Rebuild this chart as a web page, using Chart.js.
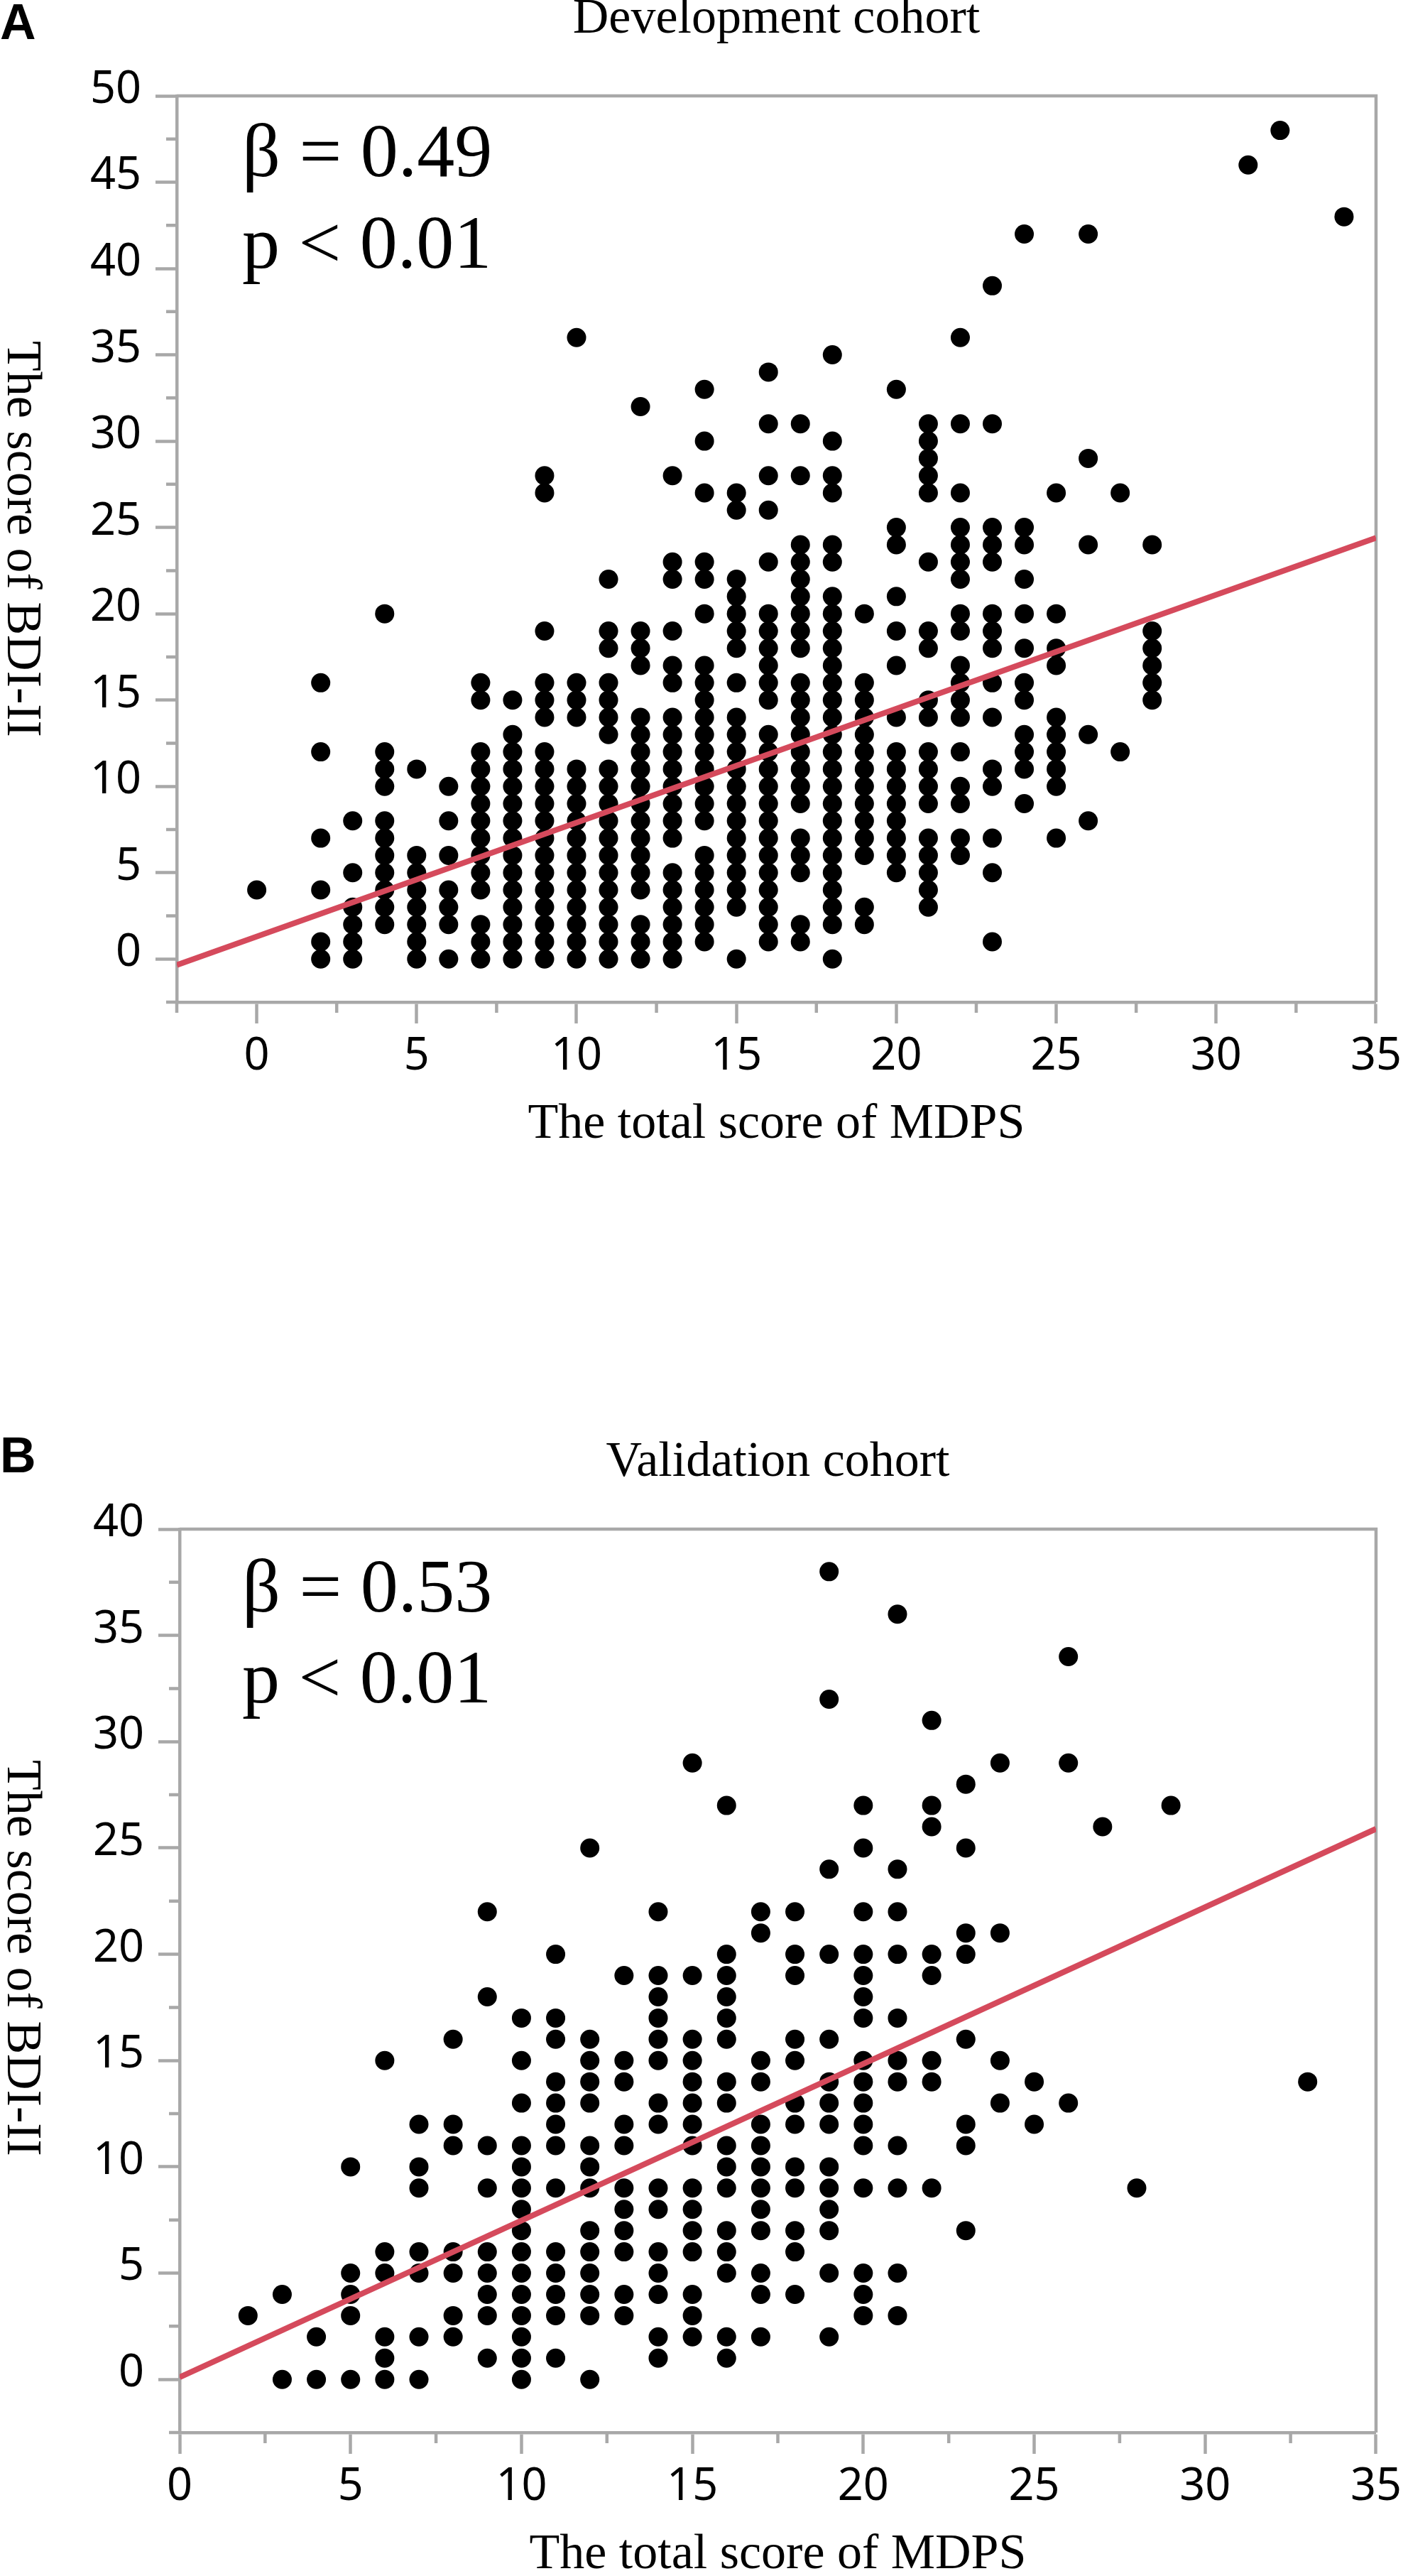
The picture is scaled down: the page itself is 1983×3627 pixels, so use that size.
<!DOCTYPE html>
<html>
<head>
<meta charset="utf-8">
<title>MDPS vs BDI-II</title>
<script src="https://cdn.jsdelivr.net/npm/chart.js@4.4.1/dist/chart.umd.min.js"></script>
<style>
  html, body { margin: 0; padding: 0; background: #fff; overflow: hidden; }
  #wrap { position: relative; width: 1983px; height: 3627px; }
  canvas { position: absolute; left: 0; }
  #devChart { top: 0; }
  #valChart { top: 1800px; }
</style>
</head>
<body>
<div id="wrap">
  <canvas id="devChart" width="1983" height="1800"></canvas>
  <canvas id="valChart" width="1983" height="1900"></canvas>
</div>
<script>
// Development cohort: MDPS total score (x) and the BDI-II scores seen at that x
const devMdps = [0, 2, 3, 4, 5, 6, 7, 8, 9, 10, 11, 12, 13, 14, 15, 16, 17, 18, 19, 20, 21, 22, 23, 24, 25, 26, 27, 28, 31, 32, 34];
const devBdi = [
    [4],
    [0, 1, 4, 7, 12, 16],
    [0, 1, 2, 3, 5, 8],
    [2, 3, 4, 5, 6, 7, 8, 10, 11, 12, 20],
    [0, 1, 2, 3, 4, 5, 6, 11],
    [0, 2, 3, 4, 6, 8, 10],
    [0, 1, 2, 4, 5, 6, 7, 8, 9, 10, 11, 12, 15, 16],
    [0, 1, 2, 3, 4, 5, 6, 7, 8, 9, 10, 11, 12, 13, 15],
    [0, 1, 2, 3, 4, 5, 6, 7, 8, 9, 10, 11, 12, 14, 15, 16, 19, 27, 28],
    [0, 1, 2, 3, 4, 5, 6, 7, 8, 9, 10, 11, 14, 15, 16, 36],
    [0, 1, 2, 3, 4, 5, 6, 7, 8, 9, 10, 11, 13, 14, 15, 16, 18, 19, 22],
    [0, 1, 2, 4, 5, 6, 7, 8, 9, 10, 11, 12, 13, 14, 17, 18, 19, 32],
    [0, 1, 2, 3, 4, 5, 7, 8, 9, 10, 11, 12, 13, 14, 16, 17, 19, 22, 23, 28],
    [1, 2, 3, 4, 5, 6, 8, 9, 10, 11, 12, 13, 14, 15, 16, 17, 20, 22, 23, 27, 30, 33],
    [0, 3, 4, 5, 6, 7, 8, 9, 10, 11, 12, 13, 14, 16, 18, 19, 20, 21, 22, 26, 27],
    [1, 2, 3, 4, 5, 6, 7, 8, 9, 10, 11, 12, 13, 15, 16, 17, 18, 19, 20, 23, 26, 28, 31, 34],
    [1, 2, 5, 6, 7, 9, 10, 11, 12, 13, 14, 15, 16, 18, 19, 20, 21, 22, 23, 24, 28, 31],
    [0, 2, 3, 4, 5, 6, 7, 8, 9, 10, 11, 12, 13, 14, 15, 16, 17, 18, 19, 20, 21, 23, 24, 27, 28, 30, 35],
    [2, 3, 6, 7, 8, 9, 10, 11, 12, 13, 14, 15, 16, 20],
    [5, 6, 7, 8, 9, 10, 11, 12, 14, 17, 19, 21, 24, 25, 33],
    [3, 4, 5, 6, 7, 9, 10, 11, 12, 14, 15, 18, 19, 23, 27, 28, 29, 30, 31],
    [6, 7, 9, 10, 12, 14, 15, 16, 17, 19, 20, 22, 23, 24, 25, 27, 31, 36],
    [1, 5, 7, 10, 11, 14, 16, 18, 19, 20, 23, 24, 25, 31, 39],
    [9, 11, 12, 13, 15, 16, 18, 20, 22, 24, 25, 42],
    [7, 10, 11, 12, 13, 14, 17, 18, 20, 27],
    [8, 13, 24, 29, 42],
    [12, 27],
    [15, 16, 17, 18, 19, 24],
    [46],
    [48],
    [43]
];
// regression line ends
const devFitX = [-2.5, 35];
const devFitY = [-0.35, 24.4];

// Validation cohort
const valMdps = [2, 3, 4, 5, 6, 7, 8, 9, 10, 11, 12, 13, 14, 15, 16, 17, 18, 19, 20, 21, 22, 23, 24, 25, 26, 27, 28, 29, 33];
const valBdi = [
    [3],
    [0, 4],
    [0, 2],
    [0, 3, 4, 5, 10],
    [0, 1, 2, 5, 6, 15],
    [0, 2, 5, 6, 9, 10, 12],
    [2, 3, 5, 6, 11, 12, 16],
    [1, 3, 4, 5, 6, 9, 11, 18, 22],
    [0, 1, 2, 3, 4, 5, 6, 7, 8, 9, 10, 11, 13, 15, 17],
    [1, 3, 4, 5, 6, 9, 11, 12, 13, 14, 16, 17, 20],
    [0, 3, 4, 5, 6, 7, 9, 10, 11, 13, 14, 15, 16, 25],
    [3, 4, 6, 7, 8, 9, 11, 12, 14, 15, 19],
    [1, 2, 4, 5, 6, 8, 9, 12, 13, 15, 16, 17, 18, 19, 22],
    [2, 3, 4, 6, 7, 8, 9, 11, 12, 13, 14, 15, 16, 19, 29],
    [1, 2, 5, 6, 7, 9, 10, 11, 13, 14, 16, 17, 18, 19, 20, 27],
    [2, 4, 5, 7, 8, 9, 10, 11, 12, 14, 15, 21, 22],
    [4, 6, 7, 9, 10, 12, 13, 15, 16, 19, 20, 22],
    [2, 5, 7, 8, 9, 10, 12, 13, 14, 16, 20, 24, 32, 38],
    [3, 4, 5, 9, 11, 12, 13, 14, 15, 17, 18, 19, 20, 22, 25, 27],
    [3, 5, 9, 11, 14, 15, 17, 20, 22, 24, 36],
    [9, 14, 15, 19, 20, 26, 27, 31],
    [7, 11, 12, 16, 20, 21, 25, 28],
    [13, 15, 21, 29],
    [12, 14],
    [13, 29, 34],
    [26],
    [9],
    [27],
    [14]
];
const valFitX = [0, 35];
const valFitY = [0.1, 25.9];

// tick values (labelled) and the small in-between marks
const devXTicks = [0, 5, 10, 15, 20, 25, 30, 35];
const devXMinor = [-2.5, 2.5, 7.5, 12.5, 17.5, 22.5, 27.5, 32.5];
const devYTicks = [0, 5, 10, 15, 20, 25, 30, 35, 40, 45, 50];
const devYMinor = [-2.5, 2.5, 7.5, 12.5, 17.5, 22.5, 27.5, 32.5, 37.5, 42.5, 47.5];
const valXTicks = [0, 5, 10, 15, 20, 25, 30, 35];
const valXMinor = [2.5, 7.5, 12.5, 17.5, 22.5, 27.5, 32.5];
const valYTicks = [0, 5, 10, 15, 20, 25, 30, 35, 40];
const valYMinor = [-2.5, 2.5, 7.5, 12.5, 17.5, 22.5, 27.5, 32.5, 37.5];

const devStats = ['β = 0.49', 'p < 0.01'];
const valStats = ['β = 0.53', 'p < 0.01'];

const GREY = '#a8a8a8';
const AXIS_W = 4.5;
const MINOR_LEN = 15;
const SERIF = "'Liberation Serif', 'Times New Roman', serif";
const SANS = "'Noto Sans', sans-serif";

function toPoints(xs, ys) {
    return xs.flatMap((x, i) => ys[i].map(y => ({ x: x, y: y })));
}

function fitPoints(xs, ys) {
    return xs.map((x, i) => ({ x: x, y: ys[i] }));
}

// frame, minor ticks, rotated y title, panel letter and stats
const decoPlugin = {
    id: 'deco',
    beforeDatasetsDraw(chart, args, opts) {
        const { ctx, chartArea: a } = chart;
        const x = chart.scales.x, y = chart.scales.y;
        ctx.save();
        ctx.strokeStyle = GREY;
        ctx.lineWidth = AXIS_W;
        ctx.beginPath();
        ctx.moveTo(a.left, a.top);
        ctx.lineTo(a.right, a.top);
        ctx.lineTo(a.right, a.bottom);
        ctx.stroke();
        ctx.beginPath();
        opts.xMinor.forEach(v => {
            const px = x.getPixelForValue(v);
            ctx.moveTo(px, a.bottom);
            ctx.lineTo(px, a.bottom + MINOR_LEN);
        });
        opts.yMinor.forEach(v => {
            const py = y.getPixelForValue(v);
            ctx.moveTo(a.left - MINOR_LEN, py);
            ctx.lineTo(a.left, py);
        });
        ctx.stroke();
        ctx.restore();
    },
    afterDraw(chart, args, opts) {
        const ctx = chart.ctx;
        ctx.save();
        ctx.fillStyle = '#000';

        // panel letter
        ctx.font = 'bold 70px "Liberation Sans", Arial, sans-serif';
        ctx.textAlign = 'left';
        ctx.textBaseline = 'alphabetic';
        ctx.fillText(opts.letter, 0, opts.letterY);

        // beta and p value
        ctx.font = '106px ' + SERIF;
        opts.stats.forEach((s, i) => ctx.fillText(s, 341, opts.statsY[i]));

        // y axis title, turned clockwise
        ctx.font = '70px ' + SERIF;
        ctx.translate(29, opts.yTitleY);
        ctx.rotate(Math.PI / 2);
        ctx.textAlign = 'center';
        ctx.textBaseline = 'middle';
        ctx.fillText('The score of BDI-II', 0, 0);
        ctx.restore();
    }
};

function makeChart(canvasId, cfg) {
    const ctx = document.getElementById(canvasId).getContext('2d');
    return new Chart(ctx, {
        type: 'scatter',
        data: {
            datasets: [{
                data: fitPoints(cfg.fitX, cfg.fitY),
                showLine: true,
                borderColor: '#d54a5c',
                borderWidth: 8,
                pointRadius: 0,
                order: 0
            }, {
                data: toPoints(cfg.mdps, cfg.bdi),
                backgroundColor: '#000',
                borderWidth: 0,
                pointRadius: 13.5,
                pointHoverRadius: 13.5,
                order: 1
            }]
        },
        options: {
            responsive: false,
            devicePixelRatio: 1,
            animation: false,
            events: [],
            layout: {
                autoPadding: false,
                padding: { top: 0, left: 0, right: 38, bottom: cfg.bottomPad }
            },
            plugins: {
                legend: { display: false },
                tooltip: { enabled: false },
                title: {
                    display: true,
                    text: cfg.title,
                    fullSize: false,
                    color: '#000',
                    font: { family: SERIF, size: 70, weight: 'normal', lineHeight: 0.8 },
                    padding: cfg.titlePad
                },
                deco: {
                    letter: cfg.letter,
                    letterY: cfg.letterY,
                    stats: cfg.stats,
                    statsY: cfg.statsY,
                    yTitleY: cfg.yTitleY,
                    xMinor: cfg.xMinor,
                    yMinor: cfg.yMinor
                }
            },
            scales: {
                x: {
                    type: 'linear',
                    min: cfg.xMin,
                    max: 35,
                    afterBuildTicks: s => { s.ticks = cfg.xTicks.map(v => ({ value: v })); },
                    afterFit: s => { s.height = 208; },
                    grid: {
                        drawOnChartArea: false,
                        drawTicks: true,
                        tickLength: 30,
                        tickColor: GREY,
                        tickWidth: AXIS_W,
                        color: GREY
                    },
                    border: { display: true, color: GREY, width: AXIS_W },
                    ticks: {
                        color: '#000',
                        padding: 9,
                        maxRotation: 0,
                        font: { family: SANS, size: 63, lineHeight: 1.2 }
                    },
                    title: {
                        display: true,
                        text: 'The total score of MDPS',
                        color: '#000',
                        padding: 0,
                        font: { family: SERIF, size: 70, lineHeight: 1 }
                    }
                },
                y: {
                    type: 'linear',
                    min: -2.5,
                    max: cfg.yMax,
                    afterBuildTicks: s => { s.ticks = cfg.yTicks.map(v => ({ value: v })); },
                    afterFit: s => { s.width = cfg.leftW; },
                    grid: {
                        drawOnChartArea: false,
                        drawTicks: true,
                        tickLength: 30,
                        tickColor: GREY,
                        tickWidth: AXIS_W,
                        color: GREY
                    },
                    border: { display: true, color: GREY, width: AXIS_W },
                    ticks: {
                        color: '#000',
                        padding: 20,
                        labelOffset: -8,
                        font: { family: SANS, size: 63, lineHeight: 1.2 }
                    }
                }
            }
        },
        plugins: [decoPlugin]
    });
}

const devChart = makeChart('devChart', {
    title: 'Development cohort',
    titlePad: { top: 0, bottom: 79 },
    bottomPad: 181,
    leftW: 249,
    xMin: -2.5,
    yMax: 50,
    mdps: devMdps, bdi: devBdi,
    fitX: devFitX, fitY: devFitY,
    xTicks: devXTicks, xMinor: devXMinor,
    yTicks: devYTicks, yMinor: devYMinor,
    letter: 'A', letterY: 55,
    stats: devStats, statsY: [248, 377],
    yTitleY: 759
});

const valChart = makeChart('valChart', {
    title: 'Validation cohort',
    titlePad: { top: 232, bottom: 65 },
    bottomPad: 67,
    leftW: 253,
    xMin: 0,
    yMax: 40,
    mdps: valMdps, bdi: valBdi,
    fitX: valFitX, fitY: valFitY,
    xTicks: valXTicks, xMinor: valXMinor,
    yTicks: valYTicks, yMinor: valYMinor,
    letter: 'B', letterY: 273,
    stats: valStats, statsY: [469, 597],
    yTitleY: 957
});
</script>
</body>
</html>
